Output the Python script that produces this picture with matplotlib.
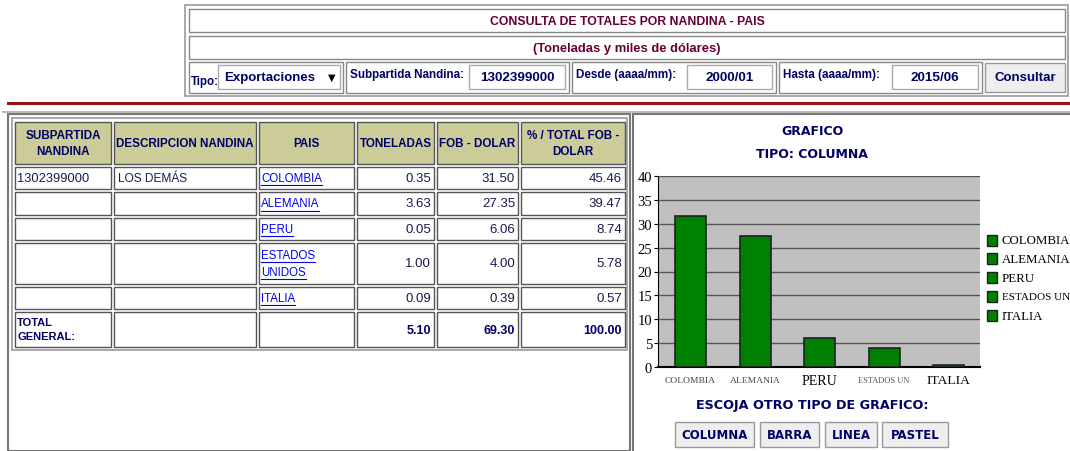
import matplotlib.pyplot as plt
import matplotlib.patches as patches

# datos de la consulta
subpartida = '1302399000'
descripcion = 'LOS DEMÁS'
paises = ['COLOMBIA', 'ALEMANIA', 'PERU', 'ESTADOS\nUNIDOS', 'ITALIA']
toneladas = [0.35, 3.63, 0.05, 1.00, 0.09]
fob_dolar = [31.50, 27.35, 6.06, 4.00, 0.39]
pct_fob = [45.46, 39.47, 8.74, 5.78, 0.57]
total_ton, total_fob, total_pct = 5.10, 69.30, 100.00
etiquetas_x = ['COLOMBIA', 'ALEMANIA', 'PERU', 'ESTADOS UN', 'ITALIA']
encabezados = ['SUBPARTIDA\nNANDINA', 'DESCRIPCION NANDINA', 'PAIS',
               'TONELADAS', 'FOB - DOLAR', '% / TOTAL FOB -\nDOLAR']
botones = ['COLUMNA', 'BARRA', 'LINEA', 'PASTEL']

NAVY = '#000066'
MAROON = '#660033'
BODY = '#1a1a4d'
FONT = ['Liberation Sans', 'DejaVu Sans']
VERDANA = ['DejaVu Sans']
SERIF = ['Liberation Serif', 'DejaVu Serif']

fig = plt.figure(figsize=(10.7, 4.52), dpi=100)
bg = fig.add_axes([0, 0, 1, 1])
bg.set_xlim(0, 1070)
bg.set_ylim(452, 0)
bg.axis('off')
renderer = fig.canvas.get_renderer()


def box(x0, y0, x1, y1, fc='white', ec='#888888', lw=1.0, z=1):
    bg.add_patch(patches.Rectangle((x0, y0), x1 - x0, y1 - y0, facecolor=fc,
                                   edgecolor=ec, linewidth=lw, zorder=z))


def txt(x, y, s, size=9, color='black', weight='normal', ha='left', family=FONT, **kw):
    return bg.text(x, y, s, fontsize=size, color=color, fontweight=weight, ha=ha,
                   va='center', family=family, zorder=5, **kw)


# formulario superior
box(185, 6, 1068, 97, ec='#999999', lw=1.2)
box(189, 10, 1065, 33)
box(189, 37, 1065, 60)
txt(627, 22, 'CONSULTA DE TOTALES POR NANDINA - PAIS', 8.8, MAROON, 'bold', 'center')
txt(627, 49, '(Toneladas y miles de dólares)', 9.4, MAROON, 'bold', 'center')
box(189, 63, 343, 94)
txt(191, 82, 'Tipo:', 8.3, NAVY, 'bold')
box(218, 66, 340, 90, ec='#aaaaaa')
txt(224, 78, 'Exportaciones', 9.5, NAVY, 'bold')
txt(332, 78, '▼', 7, 'black', ha='center', family=VERDANA)
campos = [(346, 569, 469, 565, 'Subpartida Nandina:', subpartida),
          (572, 776, 687, 772, 'Desde (aaaa/mm):', '2000/01'),
          (779, 982, 892, 978, 'Hasta (aaaa/mm):', '2015/06')]
for a, b, c, d, lab, val in campos:
    box(a, 63, b, 94)
    txt(a + 4, 75, lab, 8.4, NAVY, 'bold')
    box(c, 66, d, 90, ec='#aaaaaa')
    txt((c + d) / 2, 78, val, 9.7, NAVY, 'bold', 'center')
box(985, 64, 1065, 93, fc='#eeeeee', ec='#999999')
txt(1025, 78, 'Consultar', 9.5, NAVY, 'bold', 'center')

# lineas separadoras
bg.plot([8, 1070], [103.5, 103.5], color='#991111', lw=2.2)
bg.plot([3, 1070], [113, 113], color='#bbbbbb', lw=1.5)

# tabla
box(8, 115, 630, 452, ec='#777777', lw=1.5)
box(12, 119, 627, 351, ec='#999999', lw=1.2)
cols = [14, 113, 258, 356, 436, 520, 627]
filas = [(123, 165), (168, 190), (193, 216), (219, 241), (244, 285), (288, 310), (313, 348)]
for i in range(6):
    x0, x1 = cols[i] + 1, cols[i + 1] - 2
    for j, (y0, y1) in enumerate(filas):
        box(x0, y0, x1, y1, fc='#cccc99' if j == 0 else 'white', ec='#555555', lw=1.0)
    txt((x0 + x1) / 2, 144, encabezados[i], 8.4, NAVY, 'bold', 'center',
        multialignment='center', linespacing=1.45)

txt(17, 179, subpartida, 9.3, BODY)
txt(118, 179, descripcion, 8.6, BODY)
for j, (pais, ton, fob, pct) in enumerate(zip(paises, toneladas, fob_dolar, pct_fob)):
    y0, y1 = filas[j + 1]
    yc = (y0 + y1) / 2
    lineas = pais.split('\n')
    for k, l in enumerate(lineas):
        yy = yc + (k - (len(lineas) - 1) / 2) * 17
        t = txt(261, yy, l, 8.3, '#0000ee')
        w = t.get_window_extent(renderer).width
        bg.plot([261, 261 + w], [yy + 7, yy + 7], color='#0000ee', lw=0.8)
    txt(cols[4] - 5, yc, f'{ton:.2f}', 9.5, BODY, ha='right')
    txt(cols[5] - 5, yc, f'{fob:.2f}', 9.5, BODY, ha='right')
    txt(cols[6] - 5, yc, f'{pct:.2f}', 9.5, BODY, ha='right')
txt(17, 330, 'TOTAL\nGENERAL:', 8, NAVY, 'bold', linespacing=1.4)
txt(cols[4] - 5, 331, f'{total_ton:.2f}', 9, NAVY, 'bold', 'right')
txt(cols[5] - 5, 331, f'{total_fob:.2f}', 9, NAVY, 'bold', 'right')
txt(cols[6] - 5, 331, f'{total_pct:.2f}', 9, NAVY, 'bold', 'right')

# panel del grafico
box(633, 115, 1075, 455, ec='#777777', lw=1.5)
txt(812, 132, 'GRAFICO', 9, NAVY, 'bold', 'center', family=VERDANA)
txt(812, 155, 'TIPO: COLUMNA', 9, NAVY, 'bold', 'center', family=VERDANA)

ax = fig.add_axes([657.7 / 1070, 1 - 368.3 / 452, 322.5 / 1070, 191.6 / 452])
ax.set_facecolor('#c0c0c0')
xs = range(len(fob_dolar))
ax.bar(xs, fob_dolar, width=0.48, color='#008000', edgecolor='#202020', lw=1.2, zorder=3)
ax.set_xlim(-0.51, len(fob_dolar) - 0.51)
ax.set_ylim(0, 40)
ax.set_yticks(range(0, 41, 5))
ax.yaxis.grid(True, color='#555555', lw=1.0, zorder=0)
ax.tick_params(axis='y', length=3, pad=1, labelsize=10.5)
for lab in ax.get_yticklabels():
    lab.set_fontfamily(SERIF)
ax.set_xticks([])
for s in ['top', 'right']:
    ax.spines[s].set_visible(False)
ax.spines['left'].set_color('black')
ax.spines['bottom'].set_color('black')
ax.spines['bottom'].set_linewidth(1.5)
tam = [6.8, 6.8, 10, 6, 9.7]
col = ['#444444', '#444444', 'black', '#555555', 'black']
for i, et in enumerate(etiquetas_x):
    ax.text(i, -2.7, et, ha='center', va='center', fontsize=tam[i], color=col[i],
            family=SERIF)

# leyenda
for k, et in enumerate(etiquetas_x):
    y = 241 + k * 18.9
    box(987, y - 5.5, 997, y + 5.5, fc='#008000', ec='#202020', lw=1.0)
    bg.text(1002, y, et, fontsize=9.3 if k != 3 else 8, va='center', family=SERIF)

txt(812, 406, 'ESCOJA OTRO TIPO DE GRAFICO:', 9.2, NAVY, 'bold', 'center', family=VERDANA)
xb = [(675, 754), (760, 819), (825, 877), (882, 948)]
for (a, b), nom in zip(xb, botones):
    box(a, 423, b, 448, fc='#eeeeee', ec='#999999')
    txt((a + b) / 2, 435.5, nom, 8.5, NAVY, 'bold', 'center', family=VERDANA)

fig.savefig('out.png', dpi=100)
